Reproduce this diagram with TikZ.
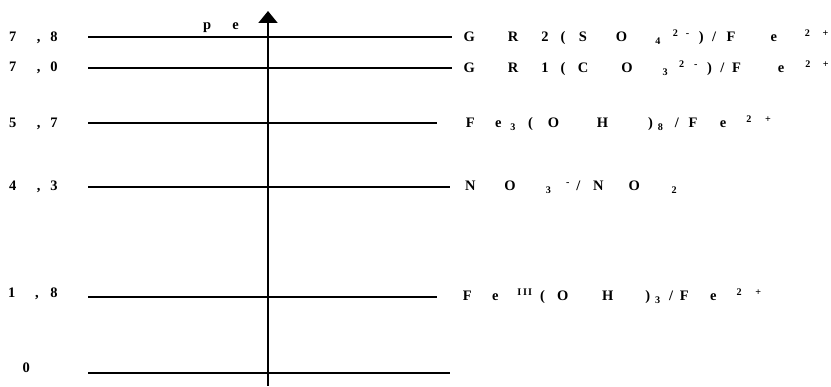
\documentclass[tikz,border=0pt]{standalone}
\usepackage{fontspec}
\setmainfont{Liberation Serif}
\usetikzlibrary{arrows.meta}

\newcommand{\gp}[1]{\hspace*{#1pt}}

\begin{document}
\begin{tikzpicture}[
  x=1pt, y=-1pt,
  level/.style={line width=2.5pt},
  axis/.style={line width=2pt, -{Triangle[length=12pt, width=19pt]}},
  lab/.style={anchor=base west, inner sep=0pt, font=\fontsize{14.5}{17}\selectfont\bfseries}
]

\path[use as bounding box] (0,0) rectangle (831,387);

% energy levels
\foreach \lv/\y/\xe in {l78/37/452, l70/68/452, l57/123/437, l43/187/450, l18/297/437, l0/373/450}{
  \coordinate (\lv-a) at (88,\y);
  \coordinate (\lv-b) at (\xe,\y);
  \draw[level] (\lv-a) -- (\lv-b);
}

% pe axis
\coordinate (bot) at (268,386);
\coordinate (top) at (268,11);
\draw[axis] (bot) -- (top);
\node[lab] (pe) at (203,30) {p\gp{21}e};

% values
\node[lab] (v78) at (8.9,42) {7\gp{20.5},\gp{10}8};
\node[lab] (v70) at (8.9,72) {7\gp{20.5},\gp{10}0};
\node[lab] (v57) at (8.9,128) {5\gp{20.5},\gp{10}7};
\node[lab] (v43) at (8.9,191) {4\gp{20.5},\gp{10}3};
\node[lab] (v18) at (8,298) {1\gp{19.6},\gp{11.6}8};
\node[lab] (v0) at (22.4,373) {0};

% couples
\node[lab] (gr2) at (463.4,42)
  {G\gp{33}R\gp{23}2\gp{12}(\gp{13.5}S\gp{29}O\gp{28}\textsubscript{4}\gp{12}\textsuperscript{2\gp{8}-}\gp{9})\gp{8.5}/\gp{10.5}F\gp{35}e\gp{28}\textsuperscript{2\gp{12.5}+}};
\node[lab] (gr1) at (463.4,73)
  {G\gp{33}R\gp{23}1\gp{12}(\gp{12.4}C\gp{33}O\gp{30}\textsubscript{3}\gp{11}\textsuperscript{2\gp{10}-}\gp{9})\gp{8.5}/\gp{7.6}F\gp{37}e\gp{21}\textsuperscript{2\gp{12.5}+}};
\node[lab] (fe3) at (465.6,128)
  {F\gp{20.4}e\gp{9}\textsubscript{3}\gp{12}(\gp{15}O\gp{37.7}H\gp{40})\gp{5}\textsubscript{8}\gp{11.4}/\gp{9.6}F\gp{22.4}e\gp{20.2}\textsuperscript{2\gp{13.6}+}};
\node[lab] (no3) at (464.8,191)
  {N\gp{29}O\gp{30}\textsubscript{3}\gp{14.8}\textsuperscript{-}\gp{6.3}/\gp{12.8}N\gp{25}O\gp{31.8}\textsubscript{2}};
\node[lab] (fe111) at (462.6,301)
  {F\gp{20.4}e\gp{18.8}\textsuperscript{I\gp{2}I\gp{1}I}\gp{7.6}(\gp{12}O\gp{33.7}H\gp{32})\gp{5}\textsubscript{3}\gp{8.4}/\gp{6.6}F\gp{21.4}e\gp{20.2}\textsuperscript{2\gp{13.6}+}};

\end{tikzpicture}
\end{document}
